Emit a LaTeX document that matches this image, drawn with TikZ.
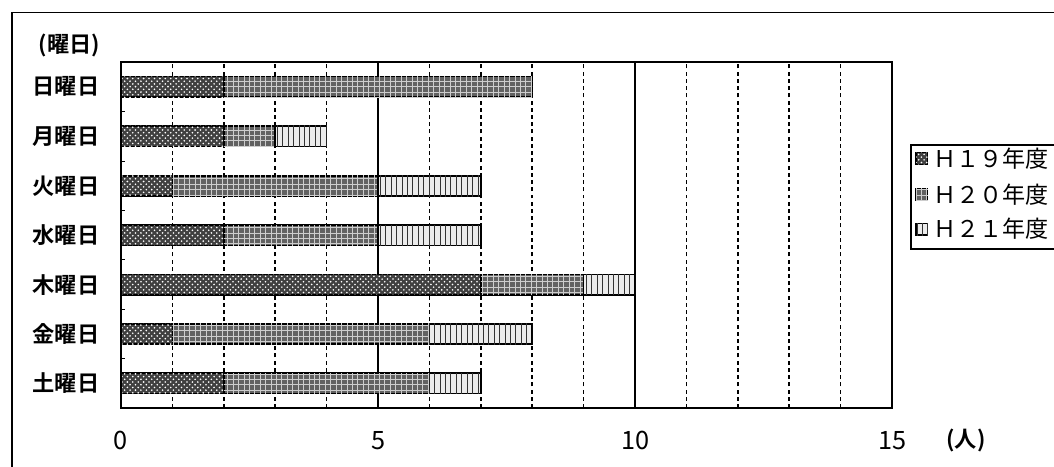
\documentclass[tikz,border=0pt]{standalone}
\usepackage{fontspec}
\newfontfamily\jp{Noto Sans CJK JP}[BoldFont={Noto Sans CJK JP Bold}]
\usetikzlibrary{patterns}

\tikzset{
  h19/.style={draw,line width=0.9pt,fill=black!75,postaction={pattern=crosshatch dots,pattern color=white}},
  h20/.style={draw,line width=0.9pt,fill=black!62,postaction={pattern=grid,pattern color=white!80!black}},
  h21/.style={draw,line width=0.9pt,fill=black!8,postaction={pattern=vertical lines,pattern color=black!80}},
  lbl/.style={font=\jp\bfseries\fontsize{12.3}{14}\selectfont,inner sep=1pt},
  griddash/.style={line width=0.9pt,dash pattern=on 2.2pt off 1.8pt},
}

\begin{document}
\begin{tikzpicture}
\clip (-2.354,-1.128) rectangle (18.15,7.938);
\fill[white] (-2.354,-1.128) rectangle (18.15,7.938);

% outer frame
\draw[line width=0.8pt] (-2.12,-2) -- (-2.12,7.70) -- (19,7.70);

% grid
\draw[griddash] (1,0) -- (1,6.727);
\draw[griddash] (2,0) -- (2,6.727);
\draw[griddash] (3,0) -- (3,6.727);
\draw[griddash] (4,0) -- (4,6.727);
\draw[line width=0.8pt] (5,0) -- (5,6.727);
\draw[griddash] (6,0) -- (6,6.727);
\draw[griddash] (7,0) -- (7,6.727);
\draw[griddash] (8,0) -- (8,6.727);
\draw[griddash] (9,0) -- (9,6.727);
\draw[line width=0.8pt] (10,0) -- (10,6.727);
\draw[griddash] (11,0) -- (11,6.727);
\draw[griddash] (12,0) -- (12,6.727);
\draw[griddash] (13,0) -- (13,6.727);
\draw[griddash] (14,0) -- (14,6.727);

% bars
\draw[h19] (0,6.05) rectangle (2,6.45);\draw[h20] (2,6.05) rectangle (8,6.45);
\draw[h19] (0,5.09) rectangle (2,5.49);\draw[h20] (2,5.09) rectangle (3,5.49);\draw[h21] (3,5.09) rectangle (4,5.49);
\draw[h19] (0,4.12) rectangle (1,4.52);\draw[h20] (1,4.12) rectangle (5,4.52);\draw[h21] (5,4.12) rectangle (7,4.52);
\draw[h19] (0,3.16) rectangle (2,3.56);\draw[h20] (2,3.16) rectangle (5,3.56);\draw[h21] (5,3.16) rectangle (7,3.56);
\draw[h19] (0,2.20) rectangle (7,2.60);\draw[h20] (7,2.20) rectangle (9,2.60);\draw[h21] (9,2.20) rectangle (10,2.60);
\draw[h19] (0,1.24) rectangle (1,1.64);\draw[h20] (1,1.24) rectangle (6,1.64);\draw[h21] (6,1.24) rectangle (8,1.64);
\draw[h19] (0,0.28) rectangle (2,0.68);\draw[h20] (2,0.28) rectangle (6,0.68);\draw[h21] (6,0.28) rectangle (7,0.68);

% plot frame and ticks
\draw[line width=1.1pt] (0,0) rectangle (15,6.727);
\draw[line width=0.6pt] (0,0.961) -- (0.08,0.961);
\draw[line width=0.6pt] (0,1.922) -- (0.08,1.922);
\draw[line width=0.6pt] (0,2.883) -- (0.08,2.883);
\draw[line width=0.6pt] (0,3.844) -- (0.08,3.844);
\draw[line width=0.6pt] (0,4.805) -- (0.08,4.805);
\draw[line width=0.6pt] (0,5.766) -- (0.08,5.766);

% labels
\node[lbl] (yobi) at (-1.0,7.06) {(曜日)};
\node[lbl,anchor=east] (sun) at (-0.38,6.25) {日曜日};
\node[lbl,anchor=east] (mon) at (-0.38,5.29) {月曜日};
\node[lbl,anchor=east] (tue) at (-0.38,4.32) {火曜日};
\node[lbl,anchor=east] (wed) at (-0.38,3.36) {水曜日};
\node[lbl,anchor=east] (thu) at (-0.38,2.40) {木曜日};
\node[lbl,anchor=east] (fri) at (-0.38,1.44) {金曜日};
\node[lbl,anchor=east] (sat) at (-0.38,0.48) {土曜日};

\node[lbl,font=\jp\fontsize{14}{16}\selectfont] (t0) at (0,-0.64) {0};
\node[lbl,font=\jp\fontsize{14}{16}\selectfont] (t5) at (5,-0.64) {5};
\node[lbl,font=\jp\fontsize{14}{16}\selectfont] (t10) at (10,-0.64) {10};
\node[lbl,font=\jp\fontsize{14}{16}\selectfont] (t15) at (15,-0.64) {15};
\node[lbl] (unit) at (16.44,-0.64) {(人)};

% legend
\draw[line width=0.8pt] (15.37,3.09) rectangle (18.6,5.12);
\node[h19,minimum size=6.5pt,inner sep=0pt,line width=0.6pt] (k19) at (15.58,4.86) {};
\node[h20,minimum size=6.5pt,inner sep=0pt,line width=0.6pt] (k20) at (15.58,4.16) {};
\node[h21,minimum size=6.5pt,inner sep=0pt,line width=0.6pt] (k21) at (15.58,3.48) {};
\node[lbl,anchor=west,font=\jp\fontsize{12.8}{14}\selectfont] (lg19) at (15.76,4.86) {Ｈ１９年度};
\node[lbl,anchor=west,font=\jp\fontsize{12.8}{14}\selectfont] (lg20) at (15.76,4.16) {Ｈ２０年度};
\node[lbl,anchor=west,font=\jp\fontsize{12.8}{14}\selectfont] (lg21) at (15.76,3.48) {Ｈ２１年度};
\end{tikzpicture}
\end{document}
